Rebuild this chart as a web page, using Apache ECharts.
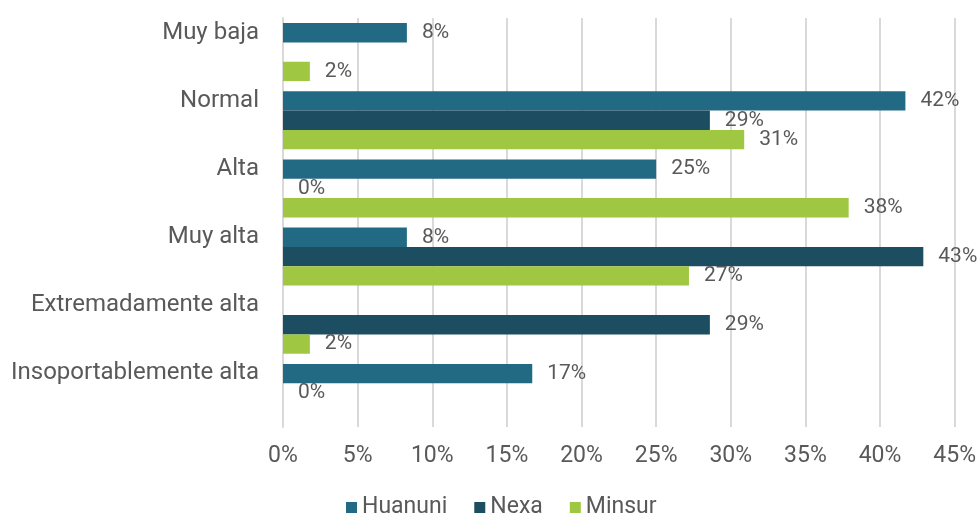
<!DOCTYPE html>
<html>
<head>
<meta charset="utf-8">
<script src="https://cdn.jsdelivr.net/npm/echarts@6/dist/echarts.min.js"></script>
<style>
  html, body { margin: 0; padding: 0; background: #fff; }
  #chart { width: 979px; height: 517px; }
</style>
</head>
<body>
<div id="chart"></div>
<script>
// categorias (de arriba hacia abajo)
var categories = ['Muy baja', 'Normal', 'Alta', 'Muy alta', 'Extremadamente alta', 'Insoportablemente alta'];
var xTicks = [0, 5, 10, 15, 20, 25, 30, 35, 40, 45];
// porcentajes por empresa (null = sin barra ni etiqueta)
var huanuni = [8.3, 41.7, 25, 8.3, null, 16.7];
var nexa = [null, 28.6, 0, 42.9, 28.6, 0];
var minsur = [1.8, 30.9, 37.9, 27.2, 1.8, null];

var colors = ['#226a84', '#1d4d61', '#9fc741'];
var textColor = '#595959';
var font = 'Roboto';

function makeSeries(name, data) {
  return {
    name: name,
    type: 'bar',
    data: data,
    barGap: '0%',
    barCategoryGap: '15%',
    label: {
      show: true,
      position: 'right',
      distance: 15,
      color: textColor,
      fontFamily: font,
      fontSize: 21,
      formatter: function (p) {
        return p.value == null ? '' : Math.round(p.value) + '%';
      }
    }
  };
}

var chart = echarts.init(document.getElementById('chart'));
chart.setOption({
  color: colors,
  animation: false,
  textStyle: { fontFamily: font },
  grid: { left: 283, right: 24, top: 18, height: 409 },
  legend: {
    top: 491,
    left: 341,
    itemWidth: 11,
    itemHeight: 11,
    itemGap: 27,
    icon: 'rect',
    textStyle: { color: textColor, fontSize: 23, fontFamily: font },
    data: ['Huanuni', 'Nexa', 'Minsur']
  },
  xAxis: {
    type: 'value',
    min: xTicks[0],
    max: xTicks[xTicks.length - 1],
    interval: 5,
    axisLine: { show: false },
    axisTick: { show: false },
    splitLine: { lineStyle: { color: '#d9d9d9', width: 2 } },
    axisLabel: {
      color: textColor,
      fontSize: 23,
      fontFamily: font,
      margin: 18,
      formatter: '{value}%'
    }
  },
  yAxis: {
    type: 'category',
    inverse: true,
    data: categories,
    axisLine: { lineStyle: { color: '#d9d9d9', width: 2 } },
    axisTick: { show: false },
    axisLabel: {
      interval: 0,
      showMinLabel: true,
      showMaxLabel: true,
      hideOverlap: false,
      color: textColor,
      fontSize: 24,
      fontFamily: font,
      margin: 24,
      lineHeight: 39,
      formatter: function (v) { return v + '\n'; }
    }
  },
  series: [
    makeSeries('Huanuni', huanuni),
    makeSeries('Nexa', nexa),
    makeSeries('Minsur', minsur)
  ]
});
</script>
</body>
</html>
